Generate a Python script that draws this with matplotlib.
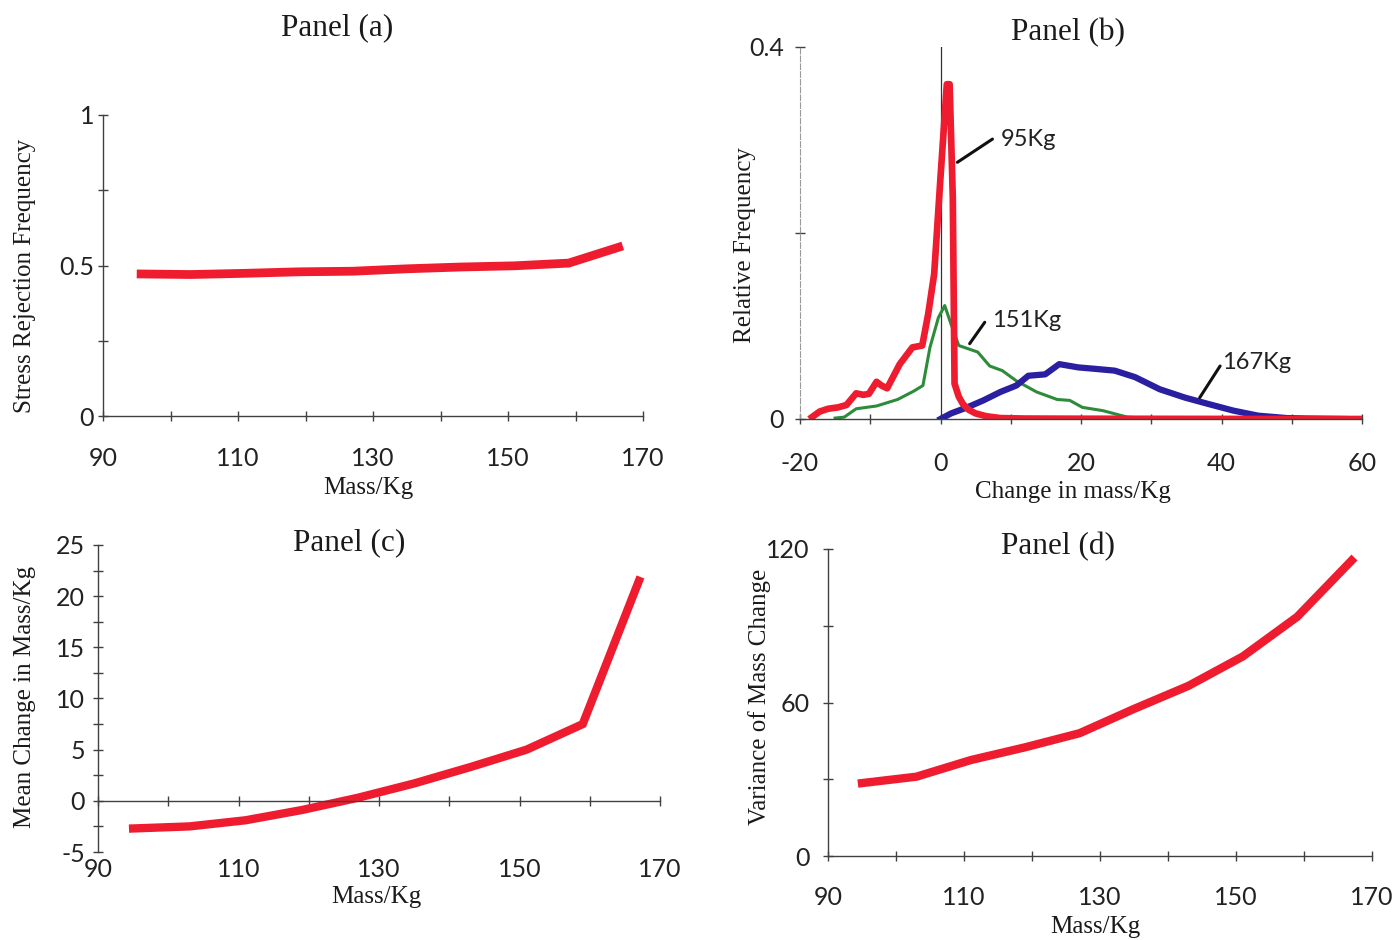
import matplotlib
matplotlib.use("Agg")
import matplotlib.pyplot as plt
from matplotlib.ticker import MultipleLocator, FixedLocator

plt.rcParams["axes.unicode_minus"] = False

# ---------------- data ----------------
mass = [95, 103, 111, 119, 127, 135, 143, 151, 159, 167]
stress_rejection = [0.472, 0.470, 0.474, 0.479, 0.481, 0.489, 0.495, 0.499, 0.508, 0.565]
mean_change = [-2.7, -2.5, -1.9, -0.9, 0.3, 1.7, 3.3, 5.0, 7.5, 21.5]
variance_change = [28.5, 31.0, 37.5, 42.5, 48.0, 57.5, 66.5, 78.0, 93.5, 115.5]

mass_ticks = [90, 110, 130, 150, 170]
mass_minor = [100, 120, 140, 160]

# panel (b) distributions of change in mass
x95 = [-18.3, -17.2, -16.0, -14.6, -13.4, -12.0, -11.0, -10.2, -9.1, -8.4, -7.6, -5.8, -4.0,
       -2.6, -1.75, -0.9, 0.0, 0.9, 1.3, 1.75, 2.0, 2.6, 3.2, 4.0, 5.0, 6.5, 8.5, 12, 20, 30, 40, 50, 60]
y95 = [0.002, 0.008, 0.011, 0.0125, 0.015, 0.0276, 0.026, 0.027, 0.040, 0.036, 0.033, 0.059, 0.077,
       0.079, 0.113, 0.156, 0.26, 0.36, 0.36, 0.238, 0.038, 0.024, 0.016, 0.010, 0.006, 0.003, 0.001,
       0.0005, 0.0003, 0.0002, 0.0001, 0.0, 0.0]

x151 = [-15.0, -13.7, -12.0, -9.1, -6.1, -3.8, -2.5, -1.5, -0.3, 0.6, 1.5, 2.6, 5.3, 7.0, 8.8,
        10.8, 13.7, 16.6, 18.4, 20.2, 23.1, 26.6, 29.0, 34.0]
y151 = [0.001, 0.002, 0.011, 0.014, 0.021, 0.030, 0.036, 0.077, 0.109, 0.122, 0.102, 0.079, 0.072,
        0.057, 0.052, 0.041, 0.029, 0.021, 0.020, 0.0125, 0.009, 0.002, 0.001, 0.0]

x167 = [0.0, 1.5, 3.8, 6.1, 8.5, 10.8, 12.5, 14.9, 16.9, 19.6, 21.9, 24.8, 27.7, 31.2, 34.8,
        38.2, 41.7, 45.2, 49.3, 52.2, 57.5]
y167 = [0.0, 0.006, 0.0125, 0.020, 0.029, 0.036, 0.0465, 0.048, 0.059, 0.0555, 0.054, 0.052,
        0.045, 0.032, 0.023, 0.016, 0.009, 0.0036, 0.001, 0.0005, 0.0]

labels_b = ["95Kg", "151Kg", "167Kg"]

# ---------------- style ----------------
W, H = 1394, 940
fig = plt.figure(figsize=(W / 100, H / 100), dpi=100)
fig.patch.set_facecolor("white")

RED = "#ee1c2e"
BLUE = "#2a1fa0"
GREEN = "#2e8b3a"
AX = "#404040"
TICKFONT = "Lato"
SERIF = "Liberation Serif"


def px_axes(left, right, top, bottom):
    return fig.add_axes([left / W, 1 - bottom / H, (right - left) / W, (bottom - top) / H])


def style(ax, xpad, ypad):
    for s in ["top", "right"]:
        ax.spines[s].set_visible(False)
    for s in ["left", "bottom"]:
        ax.spines[s].set_color(AX)
        ax.spines[s].set_linewidth(1.0)
    ax.tick_params(which="both", direction="inout", length=7, width=1.0, color=AX)
    ax.tick_params(axis="x", which="both", pad=xpad)
    ax.tick_params(axis="y", which="both", pad=ypad)
    for lab in ax.get_xticklabels() + ax.get_yticklabels():
        lab.set_fontfamily(TICKFONT)
        lab.set_fontsize(18)
        lab.set_color("#222222")
    ax.set_facecolor("none")


def mass_axis(ax):
    ax.set_xlim(90, 170)
    ax.xaxis.set_major_locator(FixedLocator(mass_ticks))
    ax.xaxis.set_minor_locator(FixedLocator(mass_minor))


def title(x, y, text):
    fig.text(x / W, 1 - y / H, text, ha="center", va="center", fontsize=22.5,
             family=SERIF, color="#1a1a1a")


def labels(ax, xl, xpos, yl, ypos):
    ax.set_xlabel(xl, fontsize=18, family=SERIF, color="#1a1a1a", va="center")
    ax.xaxis.set_label_coords(*xpos)
    ax.set_ylabel(yl, fontsize=18, family=SERIF, color="#1a1a1a", va="center")
    ax.yaxis.set_label_coords(*ypos)


# ---------------- panel (a) ----------------
axa = px_axes(103, 643, 115, 416)
axa.plot(mass, stress_rejection, color=RED, lw=6.3, solid_capstyle="butt", solid_joinstyle="miter")
mass_axis(axa)
axa.set_ylim(0, 1)
axa.yaxis.set_major_locator(FixedLocator([0, 0.5, 1]))
axa.yaxis.set_minor_locator(FixedLocator([0.25, 0.75]))
axa.set_yticklabels(["0", "0.5", "1"])
style(axa, 19, 3)
labels(axa, "Mass/Kg", (0.491, -0.239), "Stress Rejection Frequency", (-0.144, 0.465))
title(337, 28, "Panel (a)")

# ---------------- panel (b) ----------------
axb = px_axes(800, 1362, 47, 419)
axb.axvline(0, color="#333333", lw=0.9, ymax=1.0)
axb.plot(x151, y151, color=GREEN, lw=2.2, solid_joinstyle="round")
axb.plot(x167, y167, color=BLUE, lw=4.5, solid_joinstyle="round")
axb.plot(x95, y95, color=RED, lw=4.8, solid_joinstyle="round")
axb.set_xlim(-20, 60)
axb.set_ylim(0, 0.4)
axb.xaxis.set_major_locator(MultipleLocator(20))
axb.xaxis.set_minor_locator(MultipleLocator(10))
axb.yaxis.set_major_locator(FixedLocator([0, 0.4]))
axb.yaxis.set_minor_locator(FixedLocator([0.2]))
axb.set_yticklabels(["0", "0.4"])
style(axb, 20, 8)
axb.spines["left"].set_color("#9a9a9a")
axb.spines["left"].set_linestyle((0, (5, 2)))
axb.spines["left"].set_linewidth(0.8)
labels(axb, "Change in mass/Kg", (0.486, -0.196), "Relative Frequency", (-0.098, 0.468))
title(1068, 33, "Panel (b)")

leaders = [((2.4, 0.276), (7.4, 0.301), (8.6, 0.300)),
           ((4.15, 0.081), (6.3, 0.104), (7.3, 0.106)),
           ((36.9, 0.023), (39.8, 0.057), (40.1, 0.061))]
for lab, (p0, p1, pt) in zip(labels_b, leaders):
    axb.annotate("", xy=p0, xytext=p1,
                 arrowprops=dict(arrowstyle="-", color="#111111", lw=2.2, shrinkA=0, shrinkB=0))
    axb.text(pt[0], pt[1], lab, ha="left", va="center", fontsize=17,
             family=TICKFONT, color="#222222")

# ---------------- panel (c) ----------------
axc = px_axes(98, 660, 545, 852)
axc.plot(mass, mean_change, color=RED, lw=6.0, solid_joinstyle="miter")
mass_axis(axc)
axc.set_ylim(-5, 25)
axc.spines["bottom"].set_position(("data", 0))
axc.yaxis.set_major_locator(MultipleLocator(5))
axc.yaxis.set_minor_locator(MultipleLocator(2.5))
style(axc, 38, 6)
labels(axc, "Mass/Kg", (0.495, -0.147), "Mean Change in Mass/Kg", (-0.13, 0.505))
title(349, 543, "Panel (c)")

# ---------------- panel (d) ----------------
axd = px_axes(828, 1372, 549, 856)
axd.plot(mass, variance_change, color=RED, lw=6.0, solid_joinstyle="round")
mass_axis(axd)
axd.set_ylim(0, 120)
axd.yaxis.set_major_locator(MultipleLocator(60))
axd.yaxis.set_minor_locator(MultipleLocator(30))
style(axd, 18, 10)
labels(axd, "Mass/Kg", (0.491, -0.231), "Variance of Mass Change", (-0.125, 0.518))
title(1058, 547, "Panel (d)")

fig.savefig("out.png", dpi=100, facecolor="white")
